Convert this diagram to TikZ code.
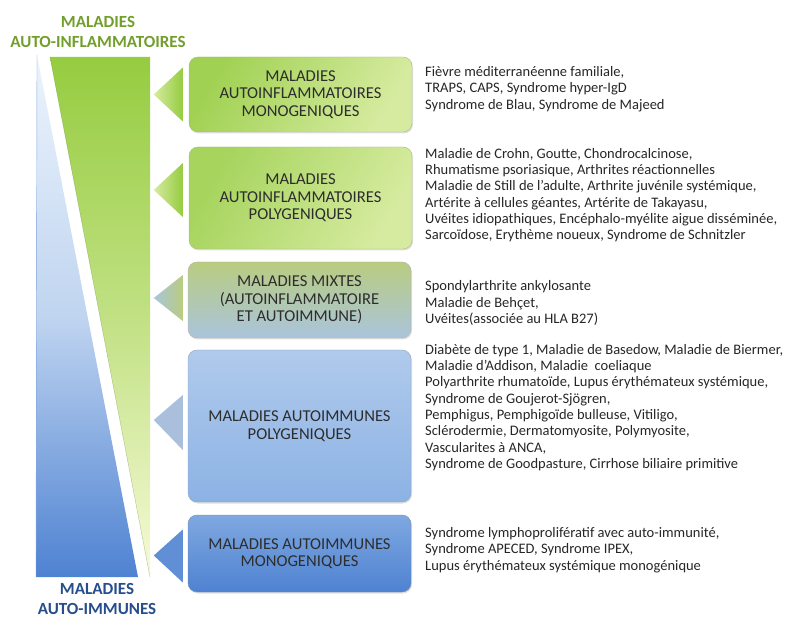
\documentclass[tikz,border=0pt]{standalone}
\usepackage{fontspec}
\setmainfont{Carlito}
\usetikzlibrary{calc,shadows}

\definecolor{titlegreen}{RGB}{114,158,44}
\definecolor{titleblue}{RGB}{38,78,140}
\definecolor{boxtext}{RGB}{45,45,45}
\definecolor{inflam}{RGB}{150,204,64}
\definecolor{inflamlight}{RGB}{214,235,160}
\definecolor{mixtop}{RGB}{185,204,128}
\definecolor{mixbottom}{RGB}{170,196,220}
\definecolor{aulight}{RGB}{176,202,236}
\definecolor{aumid}{RGB}{140,178,228}
\definecolor{audark}{RGB}{78,130,210}
\definecolor{paleblue}{RGB}{236,244,252}
\definecolor{paleyellow}{RGB}{246,250,214}

\begin{document}
\begin{tikzpicture}[x=1pt,y=-1pt,
  every box/.style={rounded corners=9pt, minimum width=223pt, align=center,
    text=boxtext, font=\fontsize{16.6}{17.5}\selectfont,
    drop shadow={shadow xshift=1pt, shadow yshift=-1.5pt, opacity=0.25}},
  every list/.style={anchor=west, align=left, text=black!85,
    font=\fontsize{14.5}{16.3}\selectfont, inner sep=0pt},
  every title/.style={align=center, font=\bfseries\fontsize{17}{19.5}\selectfont, inner sep=0pt},
]
  \useasboundingbox (0,0) rectangle (790,617);
  %
  % titles at top and bottom
  \node[every title, text=titlegreen] (top) at (98,32) {MALADIES\\AUTO-INFLAMMATOIRES};
  \node[every title, text=titleblue] (bottom) at (97,599) {MALADIES\\AUTO-IMMUNES};
  %
  % the two wedges
  \shade[top color=paleblue, bottom color=audark, middle color=aulight!80!white]
    (37,55) -- (138,577) -- (36,577) -- cycle;
  \draw[audark!70, line width=0.4pt] (37,55) -- (36,577);
  \shade[top color=inflam, bottom color=paleyellow, middle color=inflam!55!paleyellow]
    (50,57) -- (150,57) -- (150,577) -- cycle;
  \draw[inflam!60!black, line width=0.3pt, opacity=0.5] (50,57) -- (150,577);
  %
  % boxes
  \node[every box, minimum height=75pt, draw=inflam!70!black!60,
    left color=inflam!90, right color=inflamlight, shading angle=60] (monoinf) at (300.5,94.5)
    {MALADIES\\AUTOINFLAMMATOIRES\\MONOGENIQUES};
  \node[every box, minimum height=102pt, draw=inflam!70!black!60,
    left color=inflam!85, right color=inflamlight, shading angle=60] (polyinf) at (300.5,198)
    {MALADIES\\AUTOINFLAMMATOIRES\\POLYGENIQUES};
  \node[every box, minimum height=76pt, draw=gray!60,
    top color=mixtop, bottom color=mixbottom] (mixed) at (299.5,300)
    {MALADIES MIXTES\\(AUTOINFLAMMATOIRE\\ET AUTOIMMUNE)};
  \node[every box, minimum height=152pt, draw=aumid!70!black!70,
    top color=aulight, bottom color=aumid] (polyaut) at (299.5,426)
    {MALADIES AUTOIMMUNES\\POLYGENIQUES};
  \node[every box, minimum height=77pt, draw=audark!70!black!70,
    top color=aumid!80!audark, bottom color=audark] (monoaut) at (299.5,553.5)
    {MALADIES AUTOIMMUNES\\MONOGENIQUES};
  %
  % arrows pointing from the boxes to the wedges
  \shade[left color=inflamlight, right color=inflam]
    ($(monoinf.west)+(-6,-27)$) -- ($(monoinf.west)+(-6,27)$) -- ($(monoinf.west)+(-35,0)$) -- cycle;
  \shade[left color=inflamlight, right color=inflam]
    ($(polyinf.west)+(-6,-35)$) -- ($(polyinf.west)+(-6,19)$) -- ($(polyinf.west)+(-35,-8)$) -- cycle;
  \shade[left color=mixbottom, right color=mixtop]
    ($(mixed.west)+(-5,-25)$) -- ($(mixed.west)+(-5,21)$) -- ($(mixed.west)+(-34,-2)$) -- cycle;
  \fill[aulight!85!gray]
    ($(polyaut.west)+(-5,-31)$) -- ($(polyaut.west)+(-5,24)$) -- ($(polyaut.west)+(-34,-6)$) -- cycle;
  \fill[audark!90!white]
    ($(monoaut.west)+(-5,-24)$) -- ($(monoaut.west)+(-5,29)$) -- ($(monoaut.west)+(-34,2)$) -- cycle;
  %
  % disease lists
  \node[every list] (l-monoinf) at (425,89)
    {Fièvre méditerranéenne familiale,\\TRAPS, CAPS, Syndrome hyper-IgD\\Syndrome de Blau, Syndrome de Majeed};
  \node[every list] (l-polyinf) at (425,195)
    {Maladie de Crohn, Goutte, Chondrocalcinose,\\
     Rhumatisme psoriasique, Arthrites réactionnelles\\
     Maladie de Still de l’adulte, Arthrite juvénile systémique,\\
     Artérite à cellules géantes, Artérite de Takayasu,\\
     Uvéites idiopathiques, Encéphalo-myélite aigue disséminée,\\
     Sarcoïdose, Erythème noueux, Syndrome de Schnitzler};
  \node[every list] (l-mixed) at (425,303)
    {Spondylarthrite ankylosante\\Maladie de Behçet,\\Uvéites(associée au HLA B27)};
  \node[every list] (l-polyaut) at (425,407.5)
    {Diabète de type 1, Maladie de Basedow, Maladie de Biermer,\\
     Maladie d’Addison, Maladie~~coeliaque\\
     Polyarthrite rhumatoïde, Lupus érythémateux systémique,\\
     Syndrome de Goujerot-Sjögren,\\
     Pemphigus, Pemphigoïde bulleuse, Vitiligo,\\
     Sclérodermie, Dermatomyosite, Polymyosite,\\
     Vascularites à ANCA,\\
     Syndrome de Goodpasture, Cirrhose biliaire primitive};
  \node[every list] (l-monoaut) at (425,550)
    {Syndrome lymphoprolifératif avec auto-immunité,\\Syndrome APECED, Syndrome IPEX,\\Lupus érythémateux systémique monogénique};
\end{tikzpicture}
\end{document}
